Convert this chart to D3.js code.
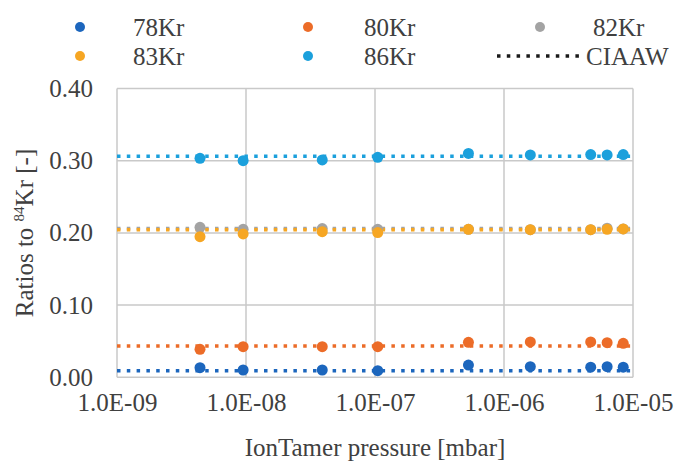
<!DOCTYPE html>
<html>
<head>
<meta charset="utf-8">
<script src="https://cdn.jsdelivr.net/npm/d3@7"></script>
<style>
  html, body { margin: 0; padding: 0; background: #fff; }
  svg { display: block; }
  svg text { font-family: "Liberation Serif", "Tinos", "DejaVu Serif", serif !important; }
</style>
</head>
<body>
<svg id="chart" width="680" height="462"></svg>
<script>
// IonTamer pressure (mbar) for each measurement
const pressure = [4.4e-9, 9.5e-9, 3.9e-8, 1.05e-7, 5.3e-7, 1.6e-6, 4.7e-6, 6.3e-6, 8.4e-6];

// Isotope ratios relative to 84Kr
const kr78 = [0.0133, 0.0101, 0.0101, 0.0092, 0.0170, 0.0147, 0.0140, 0.0147, 0.0140];
const kr80 = [0.0388, 0.0424, 0.0424, 0.0424, 0.0485, 0.0490, 0.0490, 0.0480, 0.0470];
const kr82 = [0.2077, 0.2050, 0.2060, 0.2050, 0.2050, 0.2045, 0.2045, 0.2065, 0.2055];
const kr83 = [0.1948, 0.1985, 0.2017, 0.2005, 0.2050, 0.2045, 0.2045, 0.2050, 0.2055];
const kr86 = [0.3033, 0.3000, 0.3010, 0.3047, 0.3100, 0.3080, 0.3085, 0.3080, 0.3085];

// CIAAW reference ratios
const ciaawNames  = ["78Kr", "80Kr", "82Kr", "83Kr", "86Kr"];
const ciaawRatios = [0.0090, 0.0434, 0.2060, 0.2045, 0.3060];

const seriesNames  = ["78Kr", "80Kr", "82Kr", "83Kr", "86Kr"];
const seriesColors = ["#1c66bd", "#ec6c28", "#a3a3a3", "#f6a623", "#1ba0dc"];
const xTicks = [1e-9, 1e-8, 1e-7, 1e-6, 1e-5];
const yTicks = [0, 0.1, 0.2, 0.3, 0.4];

const seriesValues = [kr78, kr80, kr82, kr83, kr86];

const svg = d3.select("#chart");
const textColor = "#404040";
const gridColor = "#c9c9c9";
const fontSize = "25px";

const x = d3.scaleLog().domain([1e-9, 1e-5]).range([117, 633]);
const y = d3.scaleLinear().domain([0, 0.4]).range([377.3, 88.5]);

// Gridlines
svg.append("g").selectAll("line").data(yTicks).join("line")
  .attr("x1", x.range()[0]).attr("x2", x.range()[1])
  .attr("y1", d => y(d)).attr("y2", d => y(d))
  .attr("stroke", gridColor).attr("stroke-width", 1.5);
svg.append("g").selectAll("line").data(xTicks).join("line")
  .attr("x1", d => x(d)).attr("x2", d => x(d))
  .attr("y1", y.range()[0]).attr("y2", y.range()[1])
  .attr("stroke", gridColor).attr("stroke-width", 1.5);

// Axes (labels only; lines come from the grid)
const yAxis = svg.append("g")
  .attr("transform", `translate(${x.range()[0]},0)`)
  .call(d3.axisLeft(y).tickValues(yTicks).tickFormat(d3.format(".2f")).tickSize(0).tickPadding(24));
const xAxis = svg.append("g")
  .attr("transform", `translate(0,${y.range()[0]})`)
  .call(d3.axisBottom(x).tickValues(xTicks)
    .tickFormat(d => d.toExponential(1).toUpperCase().replace(/E([+-])(\d)$/, "E$10$2"))
    .tickSize(0).tickPadding(16));
[yAxis, xAxis].forEach(a => {
  a.attr("font-family", null).attr("font-size", null);
  a.select(".domain").remove();
  a.selectAll("text").attr("fill", textColor).style("font-size", fontSize);
});

// CIAAW reference lines
svg.append("g").selectAll("line").data(ciaawRatios).join("line")
  .attr("x1", x.range()[0]).attr("x2", x.range()[1] + 2)
  .attr("y1", d => y(d)).attr("y2", d => y(d))
  .attr("stroke", (d, i) => seriesColors[i])
  .attr("stroke-width", 3.5)
  .attr("stroke-dasharray", "3.5 6.3");

// Measured ratios
seriesValues.forEach((vals, i) => {
  svg.append("g").selectAll("circle").data(vals).join("circle")
    .attr("cx", (d, j) => x(pressure[j]))
    .attr("cy", d => y(d))
    .attr("r", 5.5)
    .attr("fill", seriesColors[i]);
});

// Axis titles
svg.append("text")
  .attr("x", (x.range()[0] + x.range()[1]) / 2).attr("y", 456)
  .attr("text-anchor", "middle").attr("fill", textColor).style("font-size", fontSize)
  .text("IonTamer pressure [mbar]");
const yTitle = svg.append("text")
  .attr("transform", "translate(33,233) rotate(-90)")
  .attr("text-anchor", "middle").attr("fill", textColor).style("font-size", fontSize);
yTitle.append("tspan").text("Ratios to ");
yTitle.append("tspan").attr("dy", -9).style("font-size", "15px").text("84");
yTitle.append("tspan").attr("dy", 9).text("Kr [-]");

// Legend
const legendItems = [
  { name: seriesNames[0], color: seriesColors[0], col: 0, row: 0 },
  { name: seriesNames[1], color: seriesColors[1], col: 1, row: 0 },
  { name: seriesNames[2], color: seriesColors[2], col: 2, row: 0 },
  { name: seriesNames[3], color: seriesColors[3], col: 0, row: 1 },
  { name: seriesNames[4], color: seriesColors[4], col: 1, row: 1 }
];
const colMarker = [80, 308, 540];
const colText = [133, 364, 593];
const rowY = [27, 56];
const lg = svg.append("g");
legendItems.forEach(it => {
  lg.append("circle").attr("cx", colMarker[it.col]).attr("cy", rowY[it.row])
    .attr("r", 5).attr("fill", it.color);
  lg.append("text").attr("x", colText[it.col]).attr("y", rowY[it.row])
    .attr("dy", "0.35em").attr("fill", textColor).style("font-size", fontSize).text(it.name);
});
lg.append("line").attr("x1", 497).attr("x2", 582).attr("y1", rowY[1]).attr("y2", rowY[1])
  .attr("stroke", "#1a1a1a").attr("stroke-width", 3.5).attr("stroke-dasharray", "3.5 6.3");
lg.append("text").attr("x", 586).attr("y", rowY[1]).attr("dy", "0.35em")
  .attr("fill", textColor).style("font-size", fontSize).text("CIAAW");
</script>
</body>
</html>
